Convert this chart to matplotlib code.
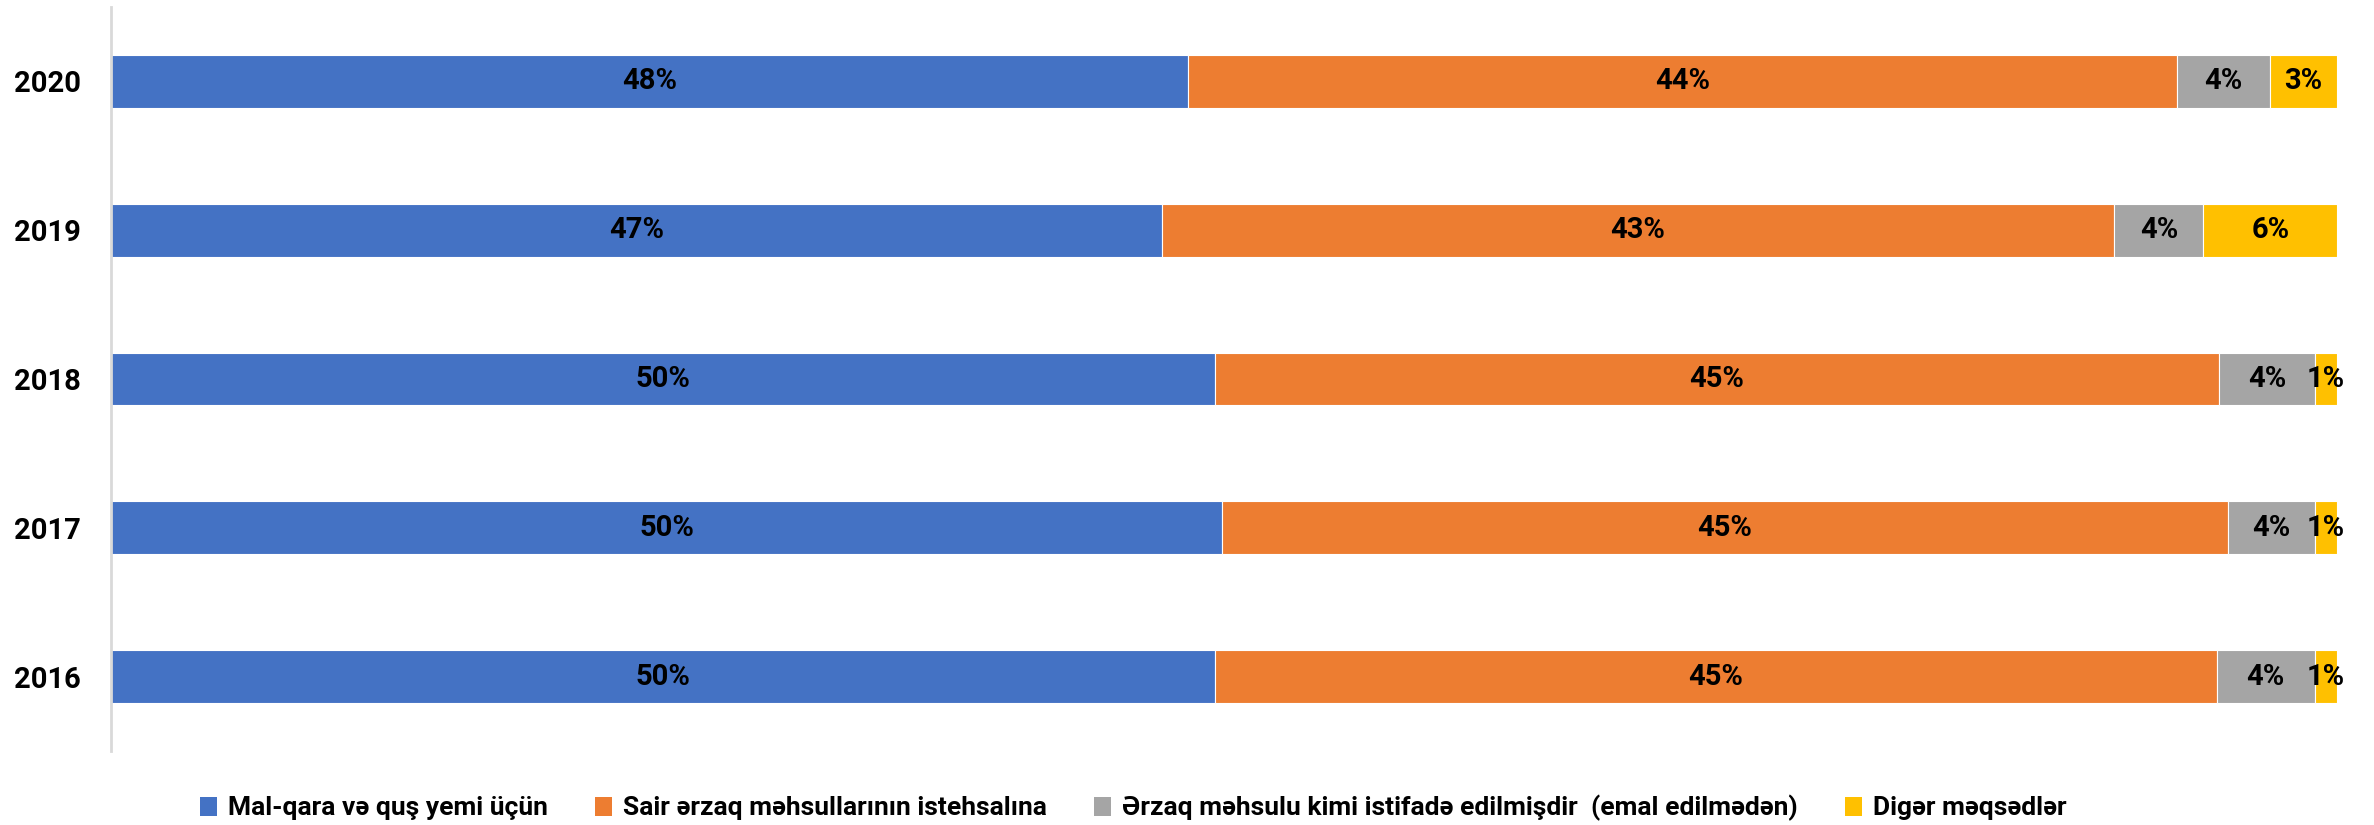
import matplotlib.pyplot as plt
import numpy as np
from matplotlib.patches import Patch

plt.rcParams['font.family'] = ['Roboto', 'DejaVu Sans']
plt.rcParams['font.weight'] = 'bold'

years = ['2016', '2017', '2018', '2019', '2020']
feed = [49.6, 49.9, 49.6, 47.2, 48.4]
food_prod = [45.0, 45.2, 45.1, 42.8, 44.4]
raw_food = [4.4, 3.9, 4.3, 4.0, 4.2]
other = [1.0, 1.0, 1.0, 6.0, 3.0]

names = ['Mal-qara və quş yemi üçün',
         'Sair ərzaq məhsullarının istehsalına',
         'Ərzaq məhsulu kimi istifadə edilmişdir  (emal edilmədən)',
         'Digər məqsədlər']
colors = ['#4472C4', '#ED7D31', '#A5A5A5', '#FFC000']

fig = plt.figure(figsize=(23.74, 8.25), dpi=100)
ax = fig.add_axes([0.0468, 0.0897, 0.9376, 0.9018])

y = np.arange(len(years))
left = np.zeros(len(years))
for vals, c in zip([feed, food_prod, raw_food, other], colors):
    vals = np.array(vals)
    bars = ax.barh(y, vals, left=left, height=0.356, color=c,
                   edgecolor='white', linewidth=0.8)
    for b, v in zip(bars, vals):
        ax.text(b.get_x() + b.get_width() / 2, b.get_y() + b.get_height() / 2,
                f'{v:.0f}%', ha='center', va='center', fontsize=21,
                fontweight='bold', color='black')
    left += vals

ax.set_xlim(0, 100)
ax.set_ylim(-0.5, len(years) - 0.5)
ax.set_yticks(y)
ax.set_yticklabels(years, fontsize=21, fontweight='bold')
ax.tick_params(axis='y', length=0, pad=22)
ax.set_xticks([])
for s in ['top', 'right', 'bottom']:
    ax.spines[s].set_visible(False)
ax.spines['left'].set_color('#D9D9D9')
ax.spines['left'].set_linewidth(2)

handles = [Patch(facecolor=c, label=n) for c, n in zip(colors, names)]
fig.legend(handles=handles, loc='center', bbox_to_anchor=(0.4773, 0.0206),
           ncol=4, frameon=False, fontsize=19, handlelength=0.65,
           handleheight=0.75, handletextpad=0.4, columnspacing=1.8)

fig.savefig('out.png', dpi=100)
